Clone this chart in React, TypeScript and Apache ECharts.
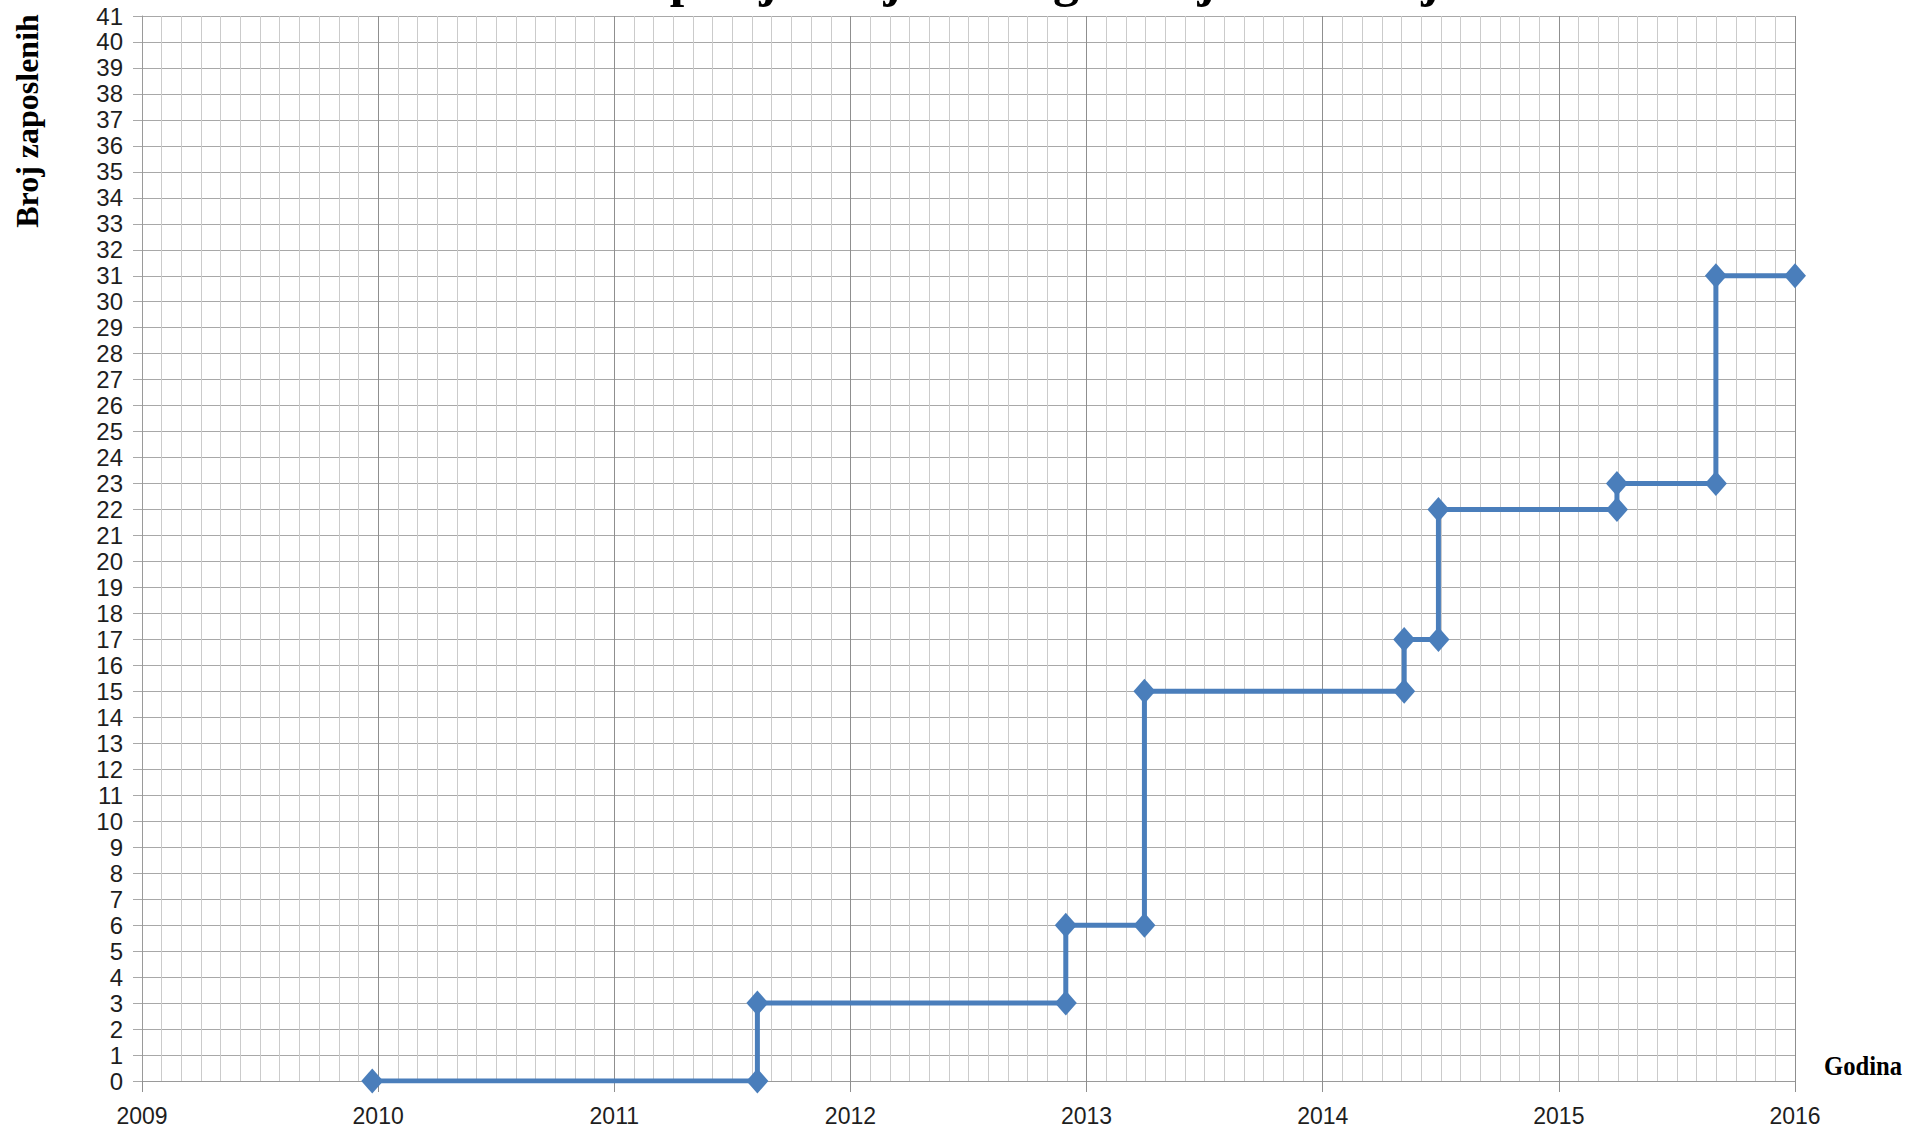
import React, { useEffect, useRef } from "react";
import * as echarts from "echarts";

const xValues = [2009.975, 2011.606, 2011.606, 2012.912, 2012.912, 2013.245, 2013.245, 2014.345, 2014.345, 2014.49, 2014.49, 2015.246, 2015.246, 2015.665, 2015.665, 2016.0];
const yValues = [0, 0, 3, 3, 6, 6, 15, 15, 17, 17, 22, 22, 23, 23, 31, 31];

const titleText = "Dinamika zapošljavanja kroz godišnje razdoblje";
const yAxisTitle = "Broj zaposlenih";
const xAxisTitle = "Godina";

const xMin = 2009;
const xMax = 2016;
const yMin = 0;
const yMax = 41;

export default function App() {
  const ref = useRef<HTMLDivElement>(null);
  useEffect(() => {
    if (!ref.current) return;
    const chart = echarts.init(ref.current, null, { renderer: "svg" });
    const labelFont = "'Liberation Sans', Arial, sans-serif";
    const serif = "'Liberation Serif', 'Times New Roman', serif";
    chart.setOption({
      animation: false,
      backgroundColor: "#ffffff",
      grid: { left: 142, right: 131, top: 16, bottom: 50, containLabel: false },
      xAxis: {
        type: "value",
        min: xMin,
        max: xMax,
        interval: 1,
        axisLine: { show: true, lineStyle: { color: "#9a9a9a", width: 1 } },
        axisTick: { show: true, length: 11, lineStyle: { color: "#8f8f8f" } },
        axisLabel: {
          margin: 23,
          fontSize: 23,
          color: "#1e1e1e",
          fontFamily: labelFont,
          formatter: (v: number) => String(Math.round(v)),
        },
        splitLine: { show: true, lineStyle: { color: "#8f8f8f", width: 1 } },
        minorTick: { show: false, splitNumber: 12 },
        minorSplitLine: { show: true, lineStyle: { color: "#cbcbcb", width: 1 } },
      },
      yAxis: {
        type: "value",
        min: yMin,
        max: yMax,
        interval: 1,
        axisLine: { show: true, lineStyle: { color: "#9a9a9a", width: 1 } },
        axisTick: { show: true, length: 9, lineStyle: { color: "#a8a8a8" } },
        axisLabel: {
          margin: 19,
          fontSize: 24,
          color: "#1e1e1e",
          fontFamily: labelFont,
        },
        splitLine: { show: true, lineStyle: { color: "#a8a8a8", width: 1.2 } },
      },
      graphic: [
        {
          type: "text",
          x: 388,
          y: 4,
          style: {
            text: titleText,
            font: `bold 52px ${serif}`,
            fill: "#000000",
            textAlign: "left",
            textVerticalAlign: "bottom",
            align: "left",
            verticalAlign: "bottom",
          },
        },
        {
          type: "text",
          x: 27,
          y: 121,
          rotation: Math.PI / 2,
          style: {
            text: yAxisTitle,
            font: `bold 32px ${serif}`,
            fill: "#000000",
            textAlign: "center",
            textVerticalAlign: "middle",
            align: "center",
            verticalAlign: "middle",
          },
        },
        {
          type: "text",
          x: 1863,
          y: 1066,
          scaleX: 0.88,
          style: {
            text: xAxisTitle,
            font: `bold 28px ${serif}`,
            fill: "#000000",
            textAlign: "center",
            textVerticalAlign: "middle",
            align: "center",
            verticalAlign: "middle",
          },
        },
      ],
      series: [
        {
          type: "line",
          data: xValues.map((x, i) => [x, yValues[i]]),
          symbol: "diamond",
          symbolSize: [22, 25],
          showAllSymbol: true,
          itemStyle: { color: "#4a7ebb" },
          lineStyle: { color: "#4a7ebb", width: 5 },
          z: 5,
        },
      ],
    });
    return () => chart.dispose();
  }, []);
  return (
    <div
      ref={ref}
      style={{ position: "fixed", left: 0, top: 0, width: 1926, height: 1131 }}
    />
  );
}
